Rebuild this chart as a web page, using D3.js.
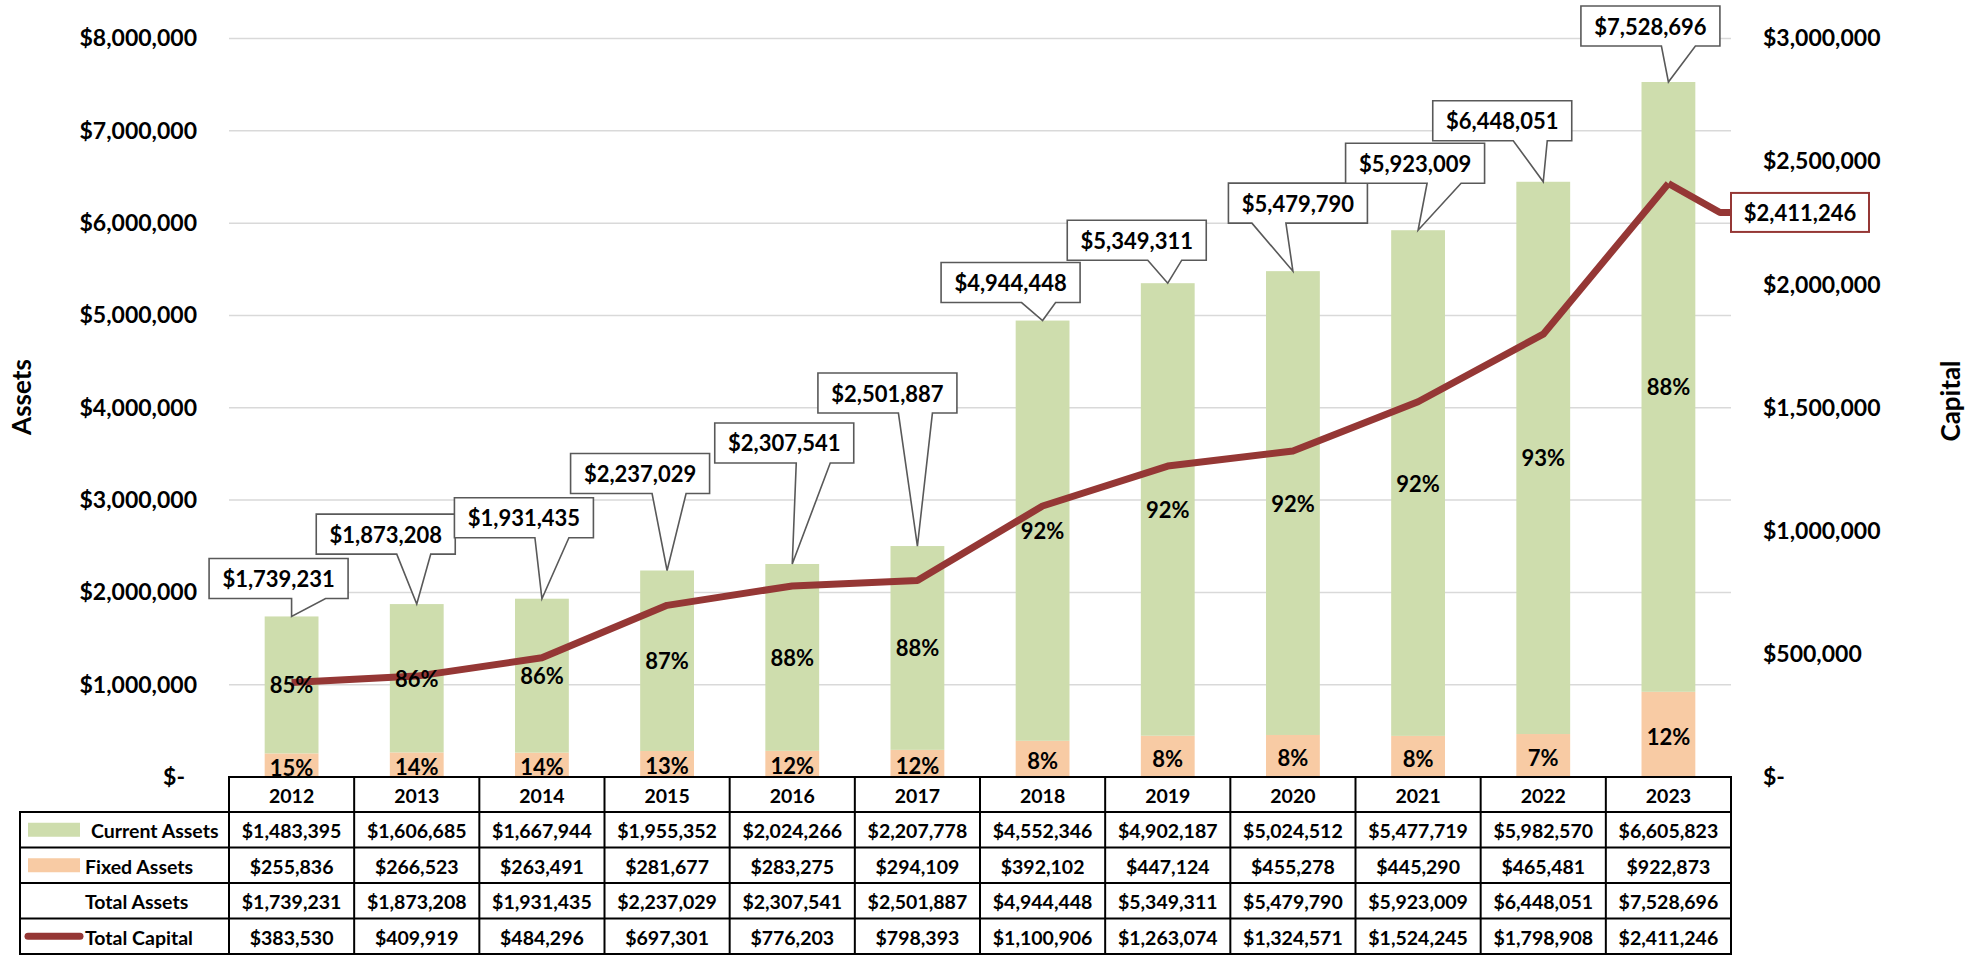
<!DOCTYPE html>
<html>
<head>
<meta charset="utf-8">
<script src="https://cdn.jsdelivr.net/npm/d3@7"></script>
<style>
  body { margin: 0; background: #fff; }
  text { font-family: Lato, "Open Sans", sans-serif; font-weight: bold; fill: #000; }
</style>
</head>
<body>
<div id="chart"></div>
<script>
// data
const years = ["2012", "2013", "2014", "2015", "2016", "2017", "2018", "2019", "2020", "2021", "2022", "2023"];
const currentAssets = [1483395, 1606685, 1667944, 1955352, 2024266, 2207778, 4552346, 4902187, 5024512, 5477719, 5982570, 6605823];
const fixedAssets = [255836, 266523, 263491, 281677, 283275, 294109, 392102, 447124, 455278, 445290, 465481, 922873];
const totalAssets = [1739231, 1873208, 1931435, 2237029, 2307541, 2501887, 4944448, 5349311, 5479790, 5923009, 6448051, 7528696];
const totalCapital = [383530, 409919, 484296, 697301, 776203, 798393, 1100906, 1263074, 1324571, 1524245, 1798908, 2411246];
const assetTicks = [0, 1000000, 2000000, 3000000, 4000000, 5000000, 6000000, 7000000, 8000000];
const capitalTicks = [0, 500000, 1000000, 1500000, 2000000, 2500000, 3000000];

// callout placement per year: [box dx from bar centre, gap above bar top, pointer base left from bar centre]
const calloutLayout = [
  [-13, 18, 0], [-31, 50, -20], [-18, 61, -7], [-27, 77, -15], [-8, 101, 4], [-30, 133, -19],
  [-32, 18, -21], [-31, 23, -20], [5, 48, -41], [-3, 47, 9], [-41, 41, -30], [-18, 36, -7]
];

const width = 1982, height = 955;
const plotL = 229, plotR = 1731, plotT = 38.5, plotB = 777;
const green = "#CEDDAD", orange = "#F8CBA4", red = "#953735";

const svg = d3.select("#chart").append("svg")
  .attr("width", width)
  .attr("height", height);

const x = d3.scaleBand().domain(years).range([plotL, plotR]).paddingInner(0.57).paddingOuter(0.285);
const col = d3.scaleBand().domain(years).range([plotL, plotR]);
const y = d3.scaleLinear().domain([0, 8000000]).range([plotB, plotT]);
const yR = d3.scaleLinear().domain([0, 3000000]).range([plotB, plotT]);
const cx = i => x(years[i]) + x.bandwidth() / 2;
const money = d3.format("$,");
const tickFmt = v => v === 0 ? "$-" : money(v);

// gridlines
svg.append("g")
  .selectAll("line")
  .data(assetTicks.filter(d => d > 0))
  .enter()
  .append("line")
  .attr("x1", plotL).attr("x2", plotR)
  .attr("y1", d => y(d)).attr("y2", d => y(d))
  .attr("stroke", "#D9D9D9")
  .attr("stroke-width", 1.5);

// axes
const yAxis = svg.append("g")
  .attr("transform", `translate(${plotL},0)`)
  .call(d3.axisLeft(y).tickValues(assetTicks).tickFormat(tickFmt).tickSize(0).tickPadding(32));
const yAxisR = svg.append("g")
  .attr("transform", `translate(${plotR},0)`)
  .call(d3.axisRight(yR).tickValues(capitalTicks).tickFormat(tickFmt).tickSize(0).tickPadding(32));
[yAxis, yAxisR].forEach(g => {
  g.select(".domain").remove();
  g.selectAll("text").style("font-size", "23px").style("font-family", "Lato").style("font-weight", "bold");
});
yAxis.selectAll("text").filter(d => d === 0).attr("dx", -12);

svg.append("text")
  .attr("transform", "translate(21,397) rotate(-90)")
  .attr("text-anchor", "middle")
  .attr("dominant-baseline", "central")
  .style("font-size", "26px")
  .text("Assets");
svg.append("text")
  .attr("transform", "translate(1950,401) rotate(-90)")
  .attr("text-anchor", "middle")
  .attr("dominant-baseline", "central")
  .style("font-size", "26px")
  .text("Capital");

// stacked bars
const bars = svg.append("g");
bars.selectAll("rect.fixed")
  .data(fixedAssets)
  .enter()
  .append("rect")
  .attr("class", "fixed")
  .attr("x", (d, i) => x(years[i]))
  .attr("width", x.bandwidth())
  .attr("y", d => y(d))
  .attr("height", d => plotB - y(d))
  .attr("fill", orange);
bars.selectAll("rect.current")
  .data(currentAssets)
  .enter()
  .append("rect")
  .attr("class", "current")
  .attr("x", (d, i) => x(years[i]))
  .attr("width", x.bandwidth())
  .attr("y", (d, i) => y(d + fixedAssets[i]))
  .attr("height", (d, i) => y(fixedAssets[i]) - y(d + fixedAssets[i]))
  .attr("fill", green);

// capital line
const line = d3.line()
  .x((d, i) => cx(i))
  .y(d => yR(d));
svg.append("path")
  .datum(totalCapital)
  .attr("fill", "none")
  .attr("stroke", red)
  .attr("stroke-width", 7)
  .attr("stroke-linejoin", "round")
  .attr("d", line);

// leader + label for the last capital value
const last = totalCapital.length - 1;
const capY = yR(totalCapital[last]) + 29;
svg.append("path")
  .attr("fill", "none")
  .attr("stroke", red)
  .attr("stroke-width", 7)
  .attr("stroke-linejoin", "round")
  .attr("d", `M${cx(last)},${yR(totalCapital[last])}L${plotR - 11},${capY}L${plotR},${capY}`);
svg.append("rect")
  .attr("x", plotR).attr("y", capY - 19.5)
  .attr("width", 138).attr("height", 39)
  .attr("fill", "#fff")
  .attr("stroke", red)
  .attr("stroke-width", 2);
svg.append("text")
  .attr("x", plotR + 69).attr("y", capY)
  .attr("text-anchor", "middle")
  .attr("dominant-baseline", "central")
  .style("font-size", "22px")
  .text(money(totalCapital[last]));

// percentage labels
const pct = d3.format(".0%");
svg.append("g").selectAll("text")
  .data(currentAssets)
  .enter()
  .append("text")
  .attr("x", (d, i) => cx(i))
  .attr("y", (d, i) => (y(fixedAssets[i]) + y(d + fixedAssets[i])) / 2)
  .attr("text-anchor", "middle")
  .attr("dominant-baseline", "central")
  .style("font-size", "22px")
  .text((d, i) => pct(d / totalAssets[i]));
svg.append("g").selectAll("text")
  .data(fixedAssets)
  .enter()
  .append("text")
  .attr("x", (d, i) => cx(i))
  .attr("y", d => (y(d) + plotB) / 2 + 2)
  .attr("text-anchor", "middle")
  .attr("dominant-baseline", "central")
  .style("font-size", "22px")
  .text((d, i) => pct(d / totalAssets[i]));

// total assets callouts
const boxW = 139, boxH = 40, baseW = 34;
const callouts = svg.append("g")
  .selectAll("g")
  .data(totalAssets)
  .enter()
  .append("g");
callouts.append("path")
  .attr("fill", "#fff")
  .attr("stroke", "#595959")
  .attr("stroke-width", 1.6)
  .attr("d", (d, i) => {
    const [dx, gap, bl] = calloutLayout[i];
    const tx = cx(i), ty = y(d);
    const bx = tx + dx - boxW / 2, bb = ty - gap, bt = bb - boxH;
    const b0 = tx + bl, b1 = b0 + baseW;
    return `M${bx},${bt}H${bx + boxW}V${bb}H${b1}L${tx},${ty}L${b0},${bb}H${bx}Z`;
  });
callouts.append("text")
  .attr("x", (d, i) => cx(i) + calloutLayout[i][0])
  .attr("y", (d, i) => y(d) - calloutLayout[i][1] - boxH / 2)
  .attr("text-anchor", "middle")
  .attr("dominant-baseline", "central")
  .style("font-size", "22px")
  .text(d => money(d));

// data table
const rowTop = 812, rowH = 35.5, headTop = 777;
const rows = [
  { label: "Current Assets", values: currentAssets, key: "green", lx: 91 },
  { label: "Fixed Assets", values: fixedAssets, key: "orange", lx: 85 },
  { label: "Total Assets", values: totalAssets, key: null, lx: 85 },
  { label: "Total Capital", values: totalCapital, key: "line", lx: 85 }
];
const tableBottom = rowTop + rows.length * rowH;
const table = svg.append("g");

table.selectAll("text.year")
  .data(years)
  .enter()
  .append("text")
  .attr("class", "year")
  .attr("x", d => col(d) + col.bandwidth() / 2)
  .attr("y", (headTop + rowTop) / 2 + 1)
  .attr("text-anchor", "middle")
  .attr("dominant-baseline", "central")
  .style("font-size", "19.5px")
  .text(d => d);

rows.forEach((r, ri) => {
  const cy = rowTop + ri * rowH + rowH / 2;
  table.selectAll(null)
    .data(r.values)
    .enter()
    .append("text")
    .attr("x", (d, i) => col(years[i]) + col.bandwidth() / 2)
    .attr("y", cy + 1)
    .attr("text-anchor", "middle")
    .attr("dominant-baseline", "central")
    .style("font-size", "19.5px")
    .text(d => money(d));
  table.append("text")
    .attr("x", r.lx)
    .attr("y", cy + 1)
    .attr("dominant-baseline", "central")
    .style("font-size", "19.5px")
    .text(r.label);
  if (r.key === "green" || r.key === "orange") {
    table.append("rect")
      .attr("x", 28).attr("y", cy - 7)
      .attr("width", 52).attr("height", 14)
      .attr("fill", r.key === "green" ? green : orange);
  } else if (r.key === "line") {
    table.append("line")
      .attr("x1", 28).attr("x2", 80)
      .attr("y1", cy).attr("y2", cy)
      .attr("stroke", red)
      .attr("stroke-width", 7)
      .attr("stroke-linecap", "round");
  }
});

// table grid
const gridLines = [];
gridLines.push([plotL, headTop, plotR, headTop]);
for (let k = 0; k <= rows.length; k++) {
  const yy = rowTop + k * rowH;
  gridLines.push([20, yy, plotR, yy]);
}
years.forEach(d => gridLines.push([col(d), headTop, col(d), tableBottom]));
gridLines.push([plotR, headTop, plotR, tableBottom]);
gridLines.push([20, rowTop, 20, tableBottom]);
table.selectAll("line.grid")
  .data(gridLines)
  .enter()
  .append("line")
  .attr("class", "grid")
  .attr("x1", d => d[0]).attr("y1", d => d[1])
  .attr("x2", d => d[2]).attr("y2", d => d[3])
  .attr("stroke", "#000")
  .attr("stroke-width", 2)
  .attr("stroke-linecap", "square");
</script>
</body>
</html>
